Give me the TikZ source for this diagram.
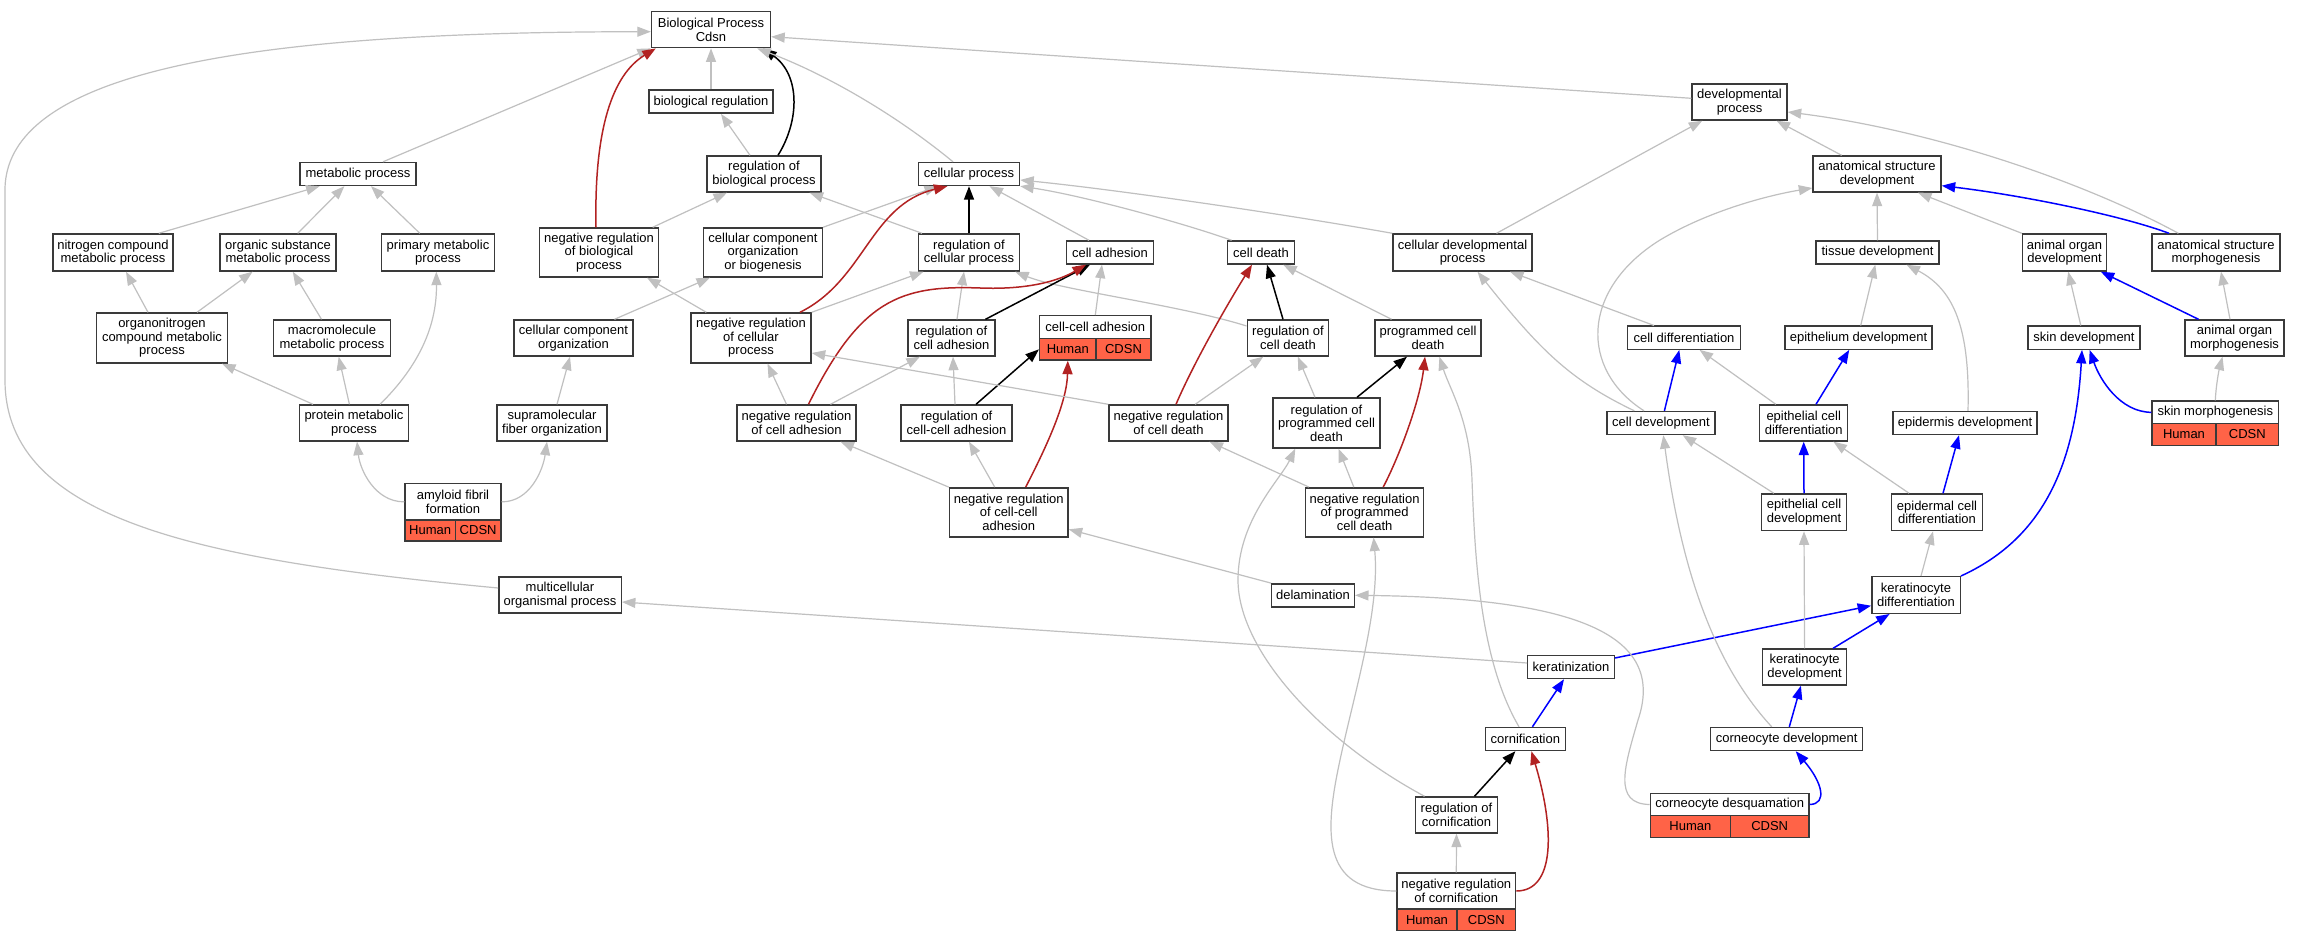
\documentclass[tikz,border=0pt]{standalone}
\usepackage{fontspec}
\setmainfont{Liberation Sans}
\usetikzlibrary{arrows.meta}
\definecolor{edgegray}{HTML}{C0C0C0}
\definecolor{redE}{HTML}{B22222}
\definecolor{blueE}{HTML}{0000FF}
\definecolor{tomatoC}{HTML}{FF6347}
\definecolor{borderC}{HTML}{3A3A3A}
\begin{document}
\begin{tikzpicture}[x=1pt,y=-1pt,
 box/.style={draw=borderC,line width=1.4pt,fill=white,inner sep=0pt,align=center,font=\fontsize{13}{13.5}\selectfont,rectangle},
 cellbox/.style={box,fill=tomatoC},
 headTri/.style={-{Triangle[length=13.5pt,width=10pt]}},
 edgeG/.style={headTri,draw=edgegray,line width=1.2pt},
 edgeK/.style={headTri,draw=black,line width=1.5pt},
 edgeR/.style={headTri,draw=redE,line width=1.5pt},
 edgeB/.style={headTri,draw=blueE,line width=1.5pt}]
\fill[white] (0,0) rectangle (2300,941);
% nodes
\node[box,minimum width=119pt,minimum height=36pt] (BP) at (711,29.7) {Biological Process\\Cdsn};
\node[box,minimum width=124pt,minimum height=23pt] (biores) at (711,101.7) {biological regulation};
\node[box,minimum width=116pt,minimum height=23pt] (metab) at (358,174) {metabolic process};
\node[box,minimum width=114pt,minimum height=36pt] (regbio) at (764,174) {regulation of\\biological process};
\node[box,minimum width=101pt,minimum height=23pt] (cellp) at (969,174) {cellular process};
\node[box,minimum width=95pt,minimum height=36pt] (devp) at (1739.5,102) {developmental\\process};
\node[box,minimum width=128pt,minimum height=36pt] (asd) at (1877,174) {anatomical structure\\development};
\node[box,minimum width=120pt,minimum height=37pt] (nitro) at (113,252.5) {nitrogen compound\\metabolic process};
\node[box,minimum width=116pt,minimum height=37pt] (orgsub) at (278,252.5) {organic substance\\metabolic process};
\node[box,minimum width=113pt,minimum height=37pt] (primary) at (438,252.5) {primary metabolic\\process};
\node[box,minimum width=118.5pt,minimum height=49pt] (negbio) at (599,252.5) {negative regulation\\of biological\\process};
\node[box,minimum width=118.5pt,minimum height=49pt] (ccob) at (763,252.5) {cellular component\\organization\\or biogenesis};
\node[box,minimum width=101pt,minimum height=37pt] (regcell) at (969,252.5) {regulation of\\cellular process};
\node[box,minimum width=87pt,minimum height=23pt] (celladh) at (1110,252.5) {cell adhesion};
\node[box,minimum width=67pt,minimum height=23pt] (celldeath) at (1261,252.5) {cell death};
\node[box,minimum width=139pt,minimum height=37pt] (cdp) at (1462.5,252.5) {cellular developmental\\process};
\node[box,minimum width=123pt,minimum height=23pt] (tissue) at (1877.5,252.5) {tissue development};
\node[box,minimum width=84pt,minimum height=37pt] (aod) at (2064.5,252.5) {animal organ\\development};
\node[box,minimum width=128pt,minimum height=37pt] (asm) at (2216,252.5) {anatomical structure\\morphogenesis};
\node[box,minimum width=131pt,minimum height=50pt] (orgnit) at (162,338) {organonitrogen\\compound metabolic\\process};
\node[box,minimum width=117pt,minimum height=36pt] (macro) at (332,338) {macromolecule\\metabolic process};
\node[box,minimum width=119pt,minimum height=36pt] (cco) at (573.5,338) {cellular component\\organization};
\node[box,minimum width=120pt,minimum height=50pt] (negcp) at (751,338) {negative regulation\\of cellular\\process};
\node[box,minimum width=87pt,minimum height=36pt] (regadh) at (951.5,338) {regulation of\\cell adhesion};
\node[box,minimum width=111.4pt,minimum height=23pt] (ccaT) at (1095.3,327.2) {cell-cell adhesion};
\node[cellbox,minimum width=56.4pt,minimum height=21.3pt] (ccaH) at (1067.8,349.35) {Human};
\node[cellbox,minimum width=55pt,minimum height=21.3pt] (ccaC) at (1123.5,349.35) {CDSN};
\node[box,minimum width=81.5pt,minimum height=36pt] (regdeath) at (1288,338) {regulation of\\cell death};
\node[box,minimum width=106pt,minimum height=36pt] (pcd) at (1428,338) {programmed cell\\death};
\node[box,minimum width=112.5pt,minimum height=23pt] (celldiff) at (1684,337.7) {cell differentiation};
\node[box,minimum width=147pt,minimum height=23pt] (epith) at (1858.5,337.7) {epithelium development};
\node[box,minimum width=112pt,minimum height=23pt] (skindev) at (2084,337.7) {skin development};
\node[box,minimum width=99pt,minimum height=36pt] (aom) at (2234.5,338) {animal organ\\morphogenesis};
\node[box,minimum width=109pt,minimum height=36pt] (protein) at (354,423) {protein metabolic\\process};
\node[box,minimum width=110pt,minimum height=36pt] (supra) at (552,423) {supramolecular\\fiber organization};
\node[box,minimum width=119pt,minimum height=36pt] (negadh) at (796.5,423) {negative regulation\\of cell adhesion};
\node[box,minimum width=111pt,minimum height=36pt] (regcca) at (956.6,423) {regulation of\\cell-cell adhesion};
\node[box,minimum width=119pt,minimum height=36pt] (negdeath) at (1168.5,423) {negative regulation\\of cell death};
\node[box,minimum width=107pt,minimum height=50pt] (regpcd) at (1326.5,423) {regulation of\\programmed cell\\death};
\node[box,minimum width=108pt,minimum height=23pt] (celldev) at (1661,423) {cell development};
\node[box,minimum width=88pt,minimum height=36pt] (ecdiff) at (1803.7,423) {epithelial cell\\differentiation};
\node[box,minimum width=144pt,minimum height=23pt] (epidev) at (1965,423) {epidermis development};
\node[box,minimum width=126.6pt,minimum height=22.7pt] (smT) at (2215.3,412.35) {skin morphogenesis};
\node[cellbox,minimum width=64pt,minimum height=21.6pt] (smH) at (2184,434.5) {Human};
\node[cellbox,minimum width=62.6pt,minimum height=21.6pt] (smC) at (2247.3,434.5) {CDSN};
\node[box,minimum width=96pt,minimum height=36.3pt] (amyT) at (453,501.85) {amyloid fibril\\formation};
\node[cellbox,minimum width=50.3pt,minimum height=21pt] (amyH) at (430.15,530.5) {Human};
\node[cellbox,minimum width=45.7pt,minimum height=21pt] (amyC) at (478.15,530.5) {CDSN};
\node[box,minimum width=118.6pt,minimum height=49pt] (negcca) at (1008.7,512.3) {negative regulation\\of cell-cell\\adhesion};
\node[box,minimum width=118pt,minimum height=49pt] (negpcd) at (1364.6,512.3) {negative regulation\\of programmed\\cell death};
\node[box,minimum width=85pt,minimum height=36.7pt] (ecdev) at (1804,512.3) {epithelial cell\\development};
\node[box,minimum width=90.5pt,minimum height=36.7pt] (epicd) at (1937,512.3) {epidermal cell\\differentiation};
\node[box,minimum width=122.4pt,minimum height=36pt] (multi) at (560,595) {multicellular\\organismal process};
\node[box,minimum width=82.6pt,minimum height=23pt] (delam) at (1313,595.3) {delamination};
\node[box,minimum width=88.4pt,minimum height=36.6pt] (kerdiff) at (1916,595) {keratinocyte\\differentiation};
\node[box,minimum width=86.5pt,minimum height=23pt] (kerat) at (1571,667) {keratinization};
\node[box,minimum width=84pt,minimum height=36pt] (kerdev) at (1804.6,667) {keratinocyte\\development};
\node[box,minimum width=80pt,minimum height=23pt] (cornif) at (1525.4,739) {cornification};
\node[box,minimum width=152pt,minimum height=23pt] (corndev) at (1786.7,739) {corneocyte development};
\node[box,minimum width=81.5pt,minimum height=36pt] (regcorn) at (1456.5,815) {regulation of\\cornification};
\node[box,minimum width=158.6pt,minimum height=22.4pt] (cdT) at (1729.7,804.5) {corneocyte desquamation};
\node[cellbox,minimum width=79.9pt,minimum height=21.6pt] (cdH) at (1690.35,826.5) {Human};
\node[cellbox,minimum width=78.7pt,minimum height=21.6pt] (cdC) at (1769.65,826.5) {CDSN};
\node[box,minimum width=118.6pt,minimum height=36pt] (ncT) at (1456.3,891) {negative regulation\\of cornification};
\node[cellbox,minimum width=60pt,minimum height=21.7pt] (ncH) at (1427,919.85) {Human};
\node[cellbox,minimum width=58.6pt,minimum height=21.7pt] (ncC) at (1486.3,919.85) {CDSN};
% edges
\draw[edgeG] ([xshift=25pt]metab.north) -- (BP.south west);
\draw[edgeG] (biores.north) -- (BP.south);
\draw[edgeG] ([xshift=-14pt]regbio.north) -- ([xshift=10pt]biores.south);
\draw[edgeK] ([xshift=14pt]regbio.north) .. controls (800,120) and (800,75) .. ([xshift=-8pt]BP.south east);
\draw[edgeR] ([xshift=-3pt]negbio.north) .. controls (594,130) and (612,75) .. ([xshift=5pt]BP.south west);
\draw[edgeG] ([xshift=-16pt]cellp.north) .. controls (890,110) and (820,72) .. ([xshift=-14pt]BP.south east);
\draw[edgeG] ([yshift=3.7pt]devp.west) -- ([yshift=-7pt]BP.east);
\draw[edgeG] ([yshift=7pt]multi.west) .. controls (200,560) and (5,520) .. (5,380) -- (5,190) .. controls (5,60) and (300,32) .. ([yshift=-2pt]BP.west);
\draw[edgeG] ([xshift=45.8pt]nitro.north) -- ([xshift=-38.4pt]metab.south);
\draw[edgeG] ([xshift=19.7pt]orgsub.north) -- ([xshift=-13.6pt]metab.south);
\draw[edgeG] ([xshift=-18.2pt]primary.north) -- ([xshift=13pt]metab.south);
\draw[edgeG] ([xshift=-14pt]orgnit.north) -- ([xshift=13pt]nitro.south);
\draw[edgeG] ([xshift=35pt]orgnit.north) -- ([xshift=-25.4pt]orgsub.south);
\draw[edgeG] ([xshift=-10.5pt]macro.north) -- ([xshift=14.8pt]orgsub.south);
\draw[edgeG] ([xshift=-41pt]protein.north) -- ([xshift=60pt]orgnit.south);
\draw[edgeG] ([xshift=-4.6pt]protein.north) -- ([xshift=6.7pt]macro.south);
\draw[edgeG] ([xshift=26pt]protein.north) .. controls (415,370) and (437,330) .. ([xshift=-1.7pt]primary.south);
\draw[edgeG] (amyT.west) .. controls (375,502) and (360,470) .. ([xshift=3pt]protein.south);
\draw[edgeG] (amyT.east) .. controls (530,502) and (543,470) .. ([xshift=-5pt]supra.south);
\draw[edgeG] ([xshift=5pt]supra.north) -- ([xshift=-3.5pt]cco.south);
\draw[edgeG] ([xshift=41pt]cco.north) -- ([xshift=-53pt]ccob.south);
\draw[edgeG] (ccob.north east) -- ([xshift=-31pt]cellp.south);
\draw[edgeG] ([xshift=53.7pt]negbio.north) -- ([xshift=-37pt]regbio.south);
\draw[edgeG] ([xshift=-47pt]regcell.north) -- ([xshift=45.6pt]regbio.south);
\draw[edgeK] (regcell.north) -- (cellp.south);
\draw[edgeG] ([xshift=-21pt]celladh.north) -- ([xshift=20.5pt]cellp.south);
\draw[edgeG] ([xshift=-29.4pt]celldeath.north) .. controls (1180,222) and (1080,195) .. (cellp.south east);
\draw[edgeG] (cdp.north west) .. controls (1290,215) and (1120,190) .. ([yshift=-6pt]cellp.east);
\draw[edgeG] ([yshift=12pt]regdeath.west) .. controls (1180,305) and (1060,290) .. ([xshift=-5pt]regcell.south east);
\draw[edgeG] (negcp.north east) -- ([xshift=5.7pt]regcell.south west);
\draw[edgeG] ([xshift=-44.7pt]negcp.north) -- ([xshift=48pt]negbio.south);
\draw[edgeR] ([xshift=49pt]negcp.north) .. controls (865,280) and (870,205) .. ([xshift=-21.6pt]cellp.south);
\draw[edgeG] ([xshift=5.5pt]regadh.north) -- ([xshift=-5pt]regcell.south);
\draw[edgeK] ([xshift=34pt]regadh.north) -- ([xshift=-20pt]celladh.south);
\draw[edgeG] (ccaT.north) -- ([xshift=-8pt]celladh.south);
\draw[edgeG] ([xshift=-10pt]negadh.north) -- ([xshift=16.5pt]negcp.south);
\draw[edgeG] ([xshift=34pt]negadh.north) -- ([xshift=12.6pt]regadh.south west);
\draw[edgeR] ([xshift=12pt]negadh.north) .. controls (860,300) and (900,285) .. (980,288) .. controls (1030,290) and (1060,280) .. ([xshift=-24pt]celladh.south);
\draw[edgeG] ([xshift=-1.6pt]regcca.north) -- ([xshift=1.5pt]regadh.south);
\draw[edgeK] ([xshift=19.4pt]regcca.north) -- (ccaH.west);
\draw[edgeG] (negcca.north west) -- ([xshift=44pt]negadh.south);
\draw[edgeG] ([xshift=-14pt]negcca.north) -- ([xshift=12.4pt]regcca.south);
\draw[edgeR] ([xshift=17pt]negcca.north) .. controls (1050,440) and (1067,400) .. (ccaH.south);
\draw[edgeG] (negdeath.north west) -- ([yshift=-15pt]negcp.east);
\draw[edgeG] ([xshift=26.7pt]negdeath.north) -- ([xshift=-24.7pt]regdeath.south);
\draw[edgeR] ([xshift=7.5pt]negdeath.north) .. controls (1195,360) and (1230,300) .. ([xshift=-9pt]celldeath.south);
\draw[edgeK] ([xshift=-5pt]regdeath.north) -- ([xshift=6pt]celldeath.south);
\draw[edgeG] ([xshift=-36.5pt]pcd.north) -- ([xshift=-12pt]celldeath.south east);
\draw[edgeG] ([xshift=-11.5pt]regpcd.north) -- ([xshift=9.8pt]regdeath.south);
\draw[edgeK] ([xshift=30.5pt]regpcd.north) -- ([xshift=-21pt]pcd.south);
\draw[edgeG] ([xshift=-10.8pt]negpcd.north) -- ([xshift=12pt]regpcd.south);
\draw[edgeG] ([xshift=4pt]negpcd.north west) -- ([xshift=41pt]negdeath.south);
\draw[edgeR] ([xshift=18.6pt]negpcd.north) .. controls (1400,455) and (1420,400) .. ([xshift=-3pt]pcd.south);
\draw[edgeG] ([xshift=9.5pt]regcorn.north west) .. controls (1320,740) and (1238,650) .. (1238,580) .. controls (1238,520) and (1280,480) .. ([xshift=23pt]regpcd.south west);
\draw[edgeG] (ncT.west) .. controls (1320,891) and (1325,830) .. (1340,760) .. controls (1355,690) and (1380,610) .. ([xshift=9pt]negpcd.south);
\draw[edgeG] ([xshift=-6.4pt]cornif.north) .. controls (1480,660) and (1475,560) .. (1472,480) .. controls (1470,420) and (1450,390) .. ([xshift=11.4pt]pcd.south);
\draw[edgeG] (ncT.north) -- (regcorn.south);
\draw[edgeK] ([xshift=18pt]regcorn.north) -- ([xshift=-10pt]cornif.south);
\draw[edgeR] (ncT.east) .. controls (1555,891) and (1555,830) .. ([xshift=6pt]cornif.south);
\draw[edgeB] ([xshift=7pt]cornif.north) -- ([xshift=-7pt]kerat.south);
\draw[edgeG] ([yshift=4pt]kerat.west) -- ([yshift=-7pt]multi.east);
\draw[edgeB] ([yshift=9pt]kerat.east) -- ([yshift=-10.7pt]kerdiff.west);
\draw[edgeG] (delam.north west) -- ([yshift=-17pt]negcca.east);
\draw[edgeG] (cdT.west) .. controls (1612,804) and (1625,765) .. (1638,720) .. controls (1665,640) and (1590,598) .. (delam.east);
\draw[edgeB] (cdT.east) .. controls (1828,804) and (1822,782) .. ([xshift=9pt]corndev.south);
\draw[edgeB] ([xshift=2.6pt]corndev.north) -- ([xshift=-3.7pt]kerdev.south);
\draw[edgeG] ([xshift=-15pt]corndev.north) .. controls (1710,660) and (1680,560) .. ([xshift=2.3pt]celldev.south);
\draw[edgeG] (kerdev.north) -- (ecdev.south);
\draw[edgeB] ([xshift=28.5pt]kerdev.north) -- ([xshift=-26.4pt]kerdiff.south);
\draw[edgeG] ([xshift=5pt]kerdiff.north) -- ([xshift=-4pt]epicd.south);
\draw[edgeB] (kerdiff.north east) .. controls (2040,540) and (2075,470) .. ([xshift=-2pt]skindev.south);
\draw[edgeB] (ecdev.north) -- (ecdiff.south);
\draw[edgeG] ([xshift=13pt]ecdev.north west) -- ([xshift=-33pt]celldev.south east);
\draw[edgeG] ([xshift=18pt]epicd.north west) -- ([xshift=-15pt]ecdiff.south east);
\draw[edgeB] ([xshift=6pt]epicd.north) -- ([xshift=-6pt]epidev.south);
\draw[edgeB] ([xshift=12.3pt]ecdiff.north) -- ([xshift=-9.3pt]epith.south);
\draw[edgeG] ([xshift=16.8pt]ecdiff.north west) -- ([xshift=15.6pt]celldiff.south);
\draw[edgeB] ([xshift=3.4pt]celldev.north) -- ([xshift=-4.7pt]celldiff.south);
\draw[edgeG] ([xshift=28pt]celldev.north west) .. controls (1570,380) and (1540,350) .. ([xshift=15pt]cdp.south);
\draw[edgeG] ([xshift=-17pt]celldev.north) .. controls (1580,370) and (1580,290) .. (1660,240) .. controls (1710,210) and (1770,195) .. ([yshift=-14pt]asd.west);
\draw[edgeG] ([xshift=-30pt]celldiff.north) -- ([xshift=47.5pt]cdp.south);
\draw[edgeG] ([xshift=34pt]cdp.north) -- ([xshift=11pt]devp.south west);
\draw[edgeG] ([xshift=-35.4pt]asd.north) -- ([xshift=37pt]devp.south);
\draw[edgeG] ([xshift=-37.6pt]asm.north) .. controls (2080,180) and (1930,130) .. ([yshift=-10pt]devp.east);
\draw[edgeB] ([xshift=-47pt]asm.north) .. controls (2120,215) and (2020,195) .. ([yshift=-11.7pt]asd.east);
\draw[edgeG] (tissue.north) -- (asd.south);
\draw[edgeG] (aod.north west) -- ([xshift=41pt]asd.south);
\draw[edgeG] ([xshift=2.2pt]epith.north) -- ([xshift=-2.2pt]tissue.south);
\draw[edgeG] ([xshift=3pt]epidev.north) .. controls (1970,330) and (1955,290) .. ([xshift=29pt]tissue.south);
\draw[edgeG] ([xshift=-3.2pt]skindev.north) -- ([xshift=3.7pt]aod.south);
\draw[edgeB] ([xshift=-36pt]aom.north) -- ([xshift=-6.4pt]aod.south east);
\draw[edgeG] ([xshift=-4.5pt]aom.north) -- ([xshift=5pt]asm.south);
\draw[edgeB] (smT.west) .. controls (2120,412) and (2100,380) .. ([xshift=5.6pt]skindev.south);
\draw[edgeG] (smT.north) .. controls (2216,385) and (2219,370) .. ([xshift=-12pt]aom.south);
\end{tikzpicture}
\end{document}
